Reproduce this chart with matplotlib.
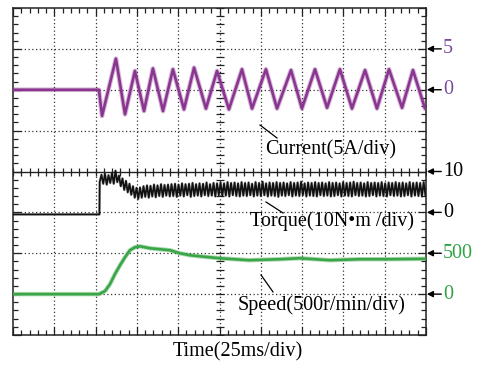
import numpy as np
import matplotlib
matplotlib.use("Agg")
import matplotlib.pyplot as plt

# ---------------- recorded traces ----------------
# time in ms, 25 ms per horizontal division
current_t = [0, 52.0, 53.9, 62.3, 67.8, 73.8, 79.3, 84.7, 90.8, 96.8, 103.5,
             109.6, 116.8, 123.5, 130.7, 138.6, 144.7, 153.1, 159.8, 168.3,
             174.9, 182.8, 190.1, 197.9, 205.2, 213.1, 220.3, 227.6, 235.5,
             242.1, 249.4]
current_a = [0, 0, -3.2, 3.8, -3.0, 2.3, -2.6, 2.6, -2.6, 2.5, -2.4,
             2.7, -2.3, 2.3, -2.4, 2.5, -2.3, 2.5, -2.3, 2.4,
             -2.3, 2.5, -2.2, 2.5, -2.3, 2.4, -2.3, 2.5, -2.2,
             2.4, -2.3]

# torque: idle level, then sampled every torque_dt ms from torque_t_start
torque_idle_t = [0, 52.3]
torque_idle = [-0.5, -0.5]
torque_t_start = 52.5
torque_dt = 1.06
torque_nm = [
    7.5, 9.2, 7.0, 9.4, 6.8, 9.1, 7.2, 9.6, 7.0, 10.2, 7.4, 9.0,
    6.4, 8.3, 5.5, 7.7, 4.9, 7.0, 4.3, 6.4, 3.6, 6.0, 3.3, 6.1,
    3.6, 6.4, 3.8, 6.6, 3.6, 6.5, 3.9, 6.8, 3.7, 6.6, 4.0, 6.9, 3.8, 6.7, 4.1, 6.8, 3.9,
    6.9, 4.0, 7.0, 3.8, 6.8, 4.1, 7.1, 3.9, 6.9, 4.2, 7.0, 3.8, 7.2, 4.0,
    6.9, 4.1, 7.1, 3.9, 7.0, 4.2, 7.3, 4.0, 6.9, 4.1, 7.2, 3.9, 7.1, 4.2,
    7.3, 4.0, 7.1, 4.1, 7.4, 3.9, 7.2, 4.2, 7.3, 4.0,
    7.1, 3.9, 7.4, 4.1, 7.2, 4.0, 7.3, 4.2, 7.0, 3.9,
    7.4, 4.1, 7.2, 4.0, 7.5, 4.2, 7.1, 3.9, 7.3, 4.1,
    7.2, 4.0, 7.4, 3.8, 7.2, 4.1, 7.3, 4.0, 7.1, 4.2,
    7.4, 3.9, 7.2, 4.1, 7.3, 4.0, 7.5, 4.2, 7.1, 3.9,
    7.3, 4.1, 7.2, 4.0, 7.4, 3.9, 7.2, 4.2, 7.3, 4.0,
    7.1, 4.1, 7.4, 3.9, 7.2, 4.0, 7.3, 4.2, 7.1, 3.9,
    7.4, 4.1, 7.2, 4.0, 7.3, 3.9, 7.5, 4.2, 7.2, 4.0,
    7.3, 4.1, 7.1, 3.9, 7.4, 4.0, 7.2, 4.2, 7.3, 3.9,
    7.2, 4.1, 7.4, 4.0, 7.1, 3.9, 7.3, 4.2, 7.2, 4.0,
    7.4, 4.1, 7.2, 3.9, 7.3, 4.0, 7.1, 4.2, 7.4, 3.9,
    7.2, 4.1, 7.3, 4.0, 7.2, 3.9, 7.4, 4.1,
]

speed_t = [0, 52.0, 55.7, 58.7, 61.7, 64.8, 67.8, 70.8, 73.8, 76.9, 82.9,
           89.0, 95.0, 101.0, 107.0, 113.0, 125.0, 143.0, 161.6, 173.7,
           191.9, 210.0, 228.0, 249.4]
speed_rpm = [0, 0, 37, 122, 244, 354, 451, 537, 573, 585, 561,
             549, 537, 500, 476, 463, 439, 415, 427, 439,
             415, 427, 427, 432]

# right-hand scale markers: (text, level in divisions, colour)
marker_text = ["5", "0", "10", "0", "500", "0"]
marker_div = [3, 2, 0, -1, -2, -3]

# ---------------- styling ----------------
PURPLE = "#8a3590"
GREEN = "#3aa648"
TXT_PURPLE = "#7a4a9e"
TXT_GREEN = "#2ea444"
marker_color = [TXT_PURPLE, TXT_PURPLE, "black", "black", TXT_GREEN, TXT_GREEN]
FONT = "Liberation Serif"

MS_PER_DIV = 25.0
CUR_ZERO, CUR_SCALE = 2.0, 5.0      # A/div
TQ_ZERO, TQ_SCALE = -1.0, 10.0      # N·m/div
SP_ZERO, SP_SCALE = -3.0, 500.0     # r/min/div

fig = plt.figure(figsize=(4.78, 3.67), dpi=100)
fig.patch.set_facecolor("white")
ax = fig.add_axes([13 / 478, 1 - 335 / 367, 413 / 478, 327 / 367])
ax.set_xlim(0, 10)
ax.set_ylim(-4, 4)

# frame ticks
ax.set_xticks(np.arange(0, 10.01, 1))
ax.set_yticks(np.arange(-4, 4.01, 1))
ax.set_xticks(np.arange(0, 10.01, 0.2), minor=True)
ax.set_yticks(np.arange(-4, 4.01, 0.2), minor=True)
ax.tick_params(which="both", direction="in", top=True, right=True,
               labelbottom=False, labelleft=False, color="#222222", width=0.9)
ax.tick_params(which="major", length=5.5)
ax.tick_params(which="minor", length=3.5)
for s in ax.spines.values():
    s.set_linewidth(1.1)
    s.set_color("#222222")

# dotted graticule
dot = (0, (1, 2))
for gx in range(1, 10):
    ax.axvline(gx, color="#333333", lw=0.9, ls=dot, zorder=1)
for gy in [-3, -2, -1, 1, 2, 3]:
    ax.axhline(gy, color="#333333", lw=0.9, ls=dot, zorder=1)
# solid divider between the two panels, and centre-axis ticks
ax.axhline(0, color="#222222", lw=1.0, zorder=1)
tk = np.arange(0, 10.01, 0.2)
ax.plot(tk, np.zeros_like(tk), ls="none", marker="|", ms=6, mew=0.9,
        color="#222222", zorder=1)
tk = np.arange(-4, 4.01, 0.2)
ax.plot(np.full_like(tk, 5.0), tk, ls="none", marker="_", ms=6, mew=0.9,
        color="#222222", zorder=1)

# ---------------- traces ----------------
cx = np.array(current_t) / MS_PER_DIV
cy = CUR_ZERO + np.array(current_a) / CUR_SCALE
ax.plot(cx, cy, color=PURPLE, lw=3.4, alpha=0.35, zorder=3,
        solid_joinstyle="round", solid_capstyle="round")
ax.plot(cx, cy, color=PURPLE, lw=1.9, zorder=4,
        solid_joinstyle="round", solid_capstyle="round")

tq_t = np.concatenate([torque_idle_t,
                       torque_t_start + torque_dt * np.arange(len(torque_nm))])
tq_v = np.concatenate([torque_idle, torque_nm])
tx = tq_t / MS_PER_DIV
ty = TQ_ZERO + tq_v / TQ_SCALE
ax.plot(tx, ty, color="#111111", lw=2.0, alpha=0.25, zorder=3)
ax.plot(tx, ty, color="#111111", lw=1.25, zorder=4)

sx = np.array(speed_t) / MS_PER_DIV
sy = SP_ZERO + np.array(speed_rpm) / SP_SCALE
ax.plot(sx, sy, color=GREEN, lw=3.2, alpha=0.4, zorder=3, solid_joinstyle="round")
ax.plot(sx, sy, color=GREEN, lw=1.9, zorder=4, solid_joinstyle="round")

# ---------------- labels ----------------
def px_to_div(px, py):
    return (px - 13) / 41.3, (171.5 - py) / 40.9

lab_kw = dict(family=FONT, fontsize=14.5, color="black", va="center", ha="left", zorder=6)
x, y = px_to_div(265, 150)
ax.text(x, y, "Current(5A/div)", **lab_kw)
x, y = px_to_div(250, 221)
ax.text(x, y, "Torque(10N\u2022m /div)", **lab_kw)
x, y = px_to_div(238, 305)
ax.text(x, y, "Speed(500r/min/div)", **lab_kw)

for (a, b) in [((260, 125), (277, 138)), ((266, 202), (283, 213)), ((261, 275), (273, 292))]:
    p0 = px_to_div(*a)
    p1 = px_to_div(*b)
    ax.plot([p0[0], p1[0]], [p0[1], p1[1]], color="black", lw=0.9, zorder=5)

# right-hand level markers
for txt, lv, col in zip(marker_text, marker_div, marker_color):
    ax.annotate("", xy=(10.02, lv), xytext=(10.37, lv), annotation_clip=False,
                arrowprops=dict(arrowstyle="-|>", color="black", lw=1.0,
                                mutation_scale=9, shrinkA=0, shrinkB=0))
    ax.text(10.41, lv, txt, family=FONT, fontsize=14.5, color=col,
            va="center", ha="left", clip_on=False)

fig.text(237.5 / 478, 1 - 352 / 367, "Time(25ms/div)", family=FONT,
         fontsize=14.5, ha="center", va="center")

fig.savefig("out.png", dpi=100, facecolor="white")
